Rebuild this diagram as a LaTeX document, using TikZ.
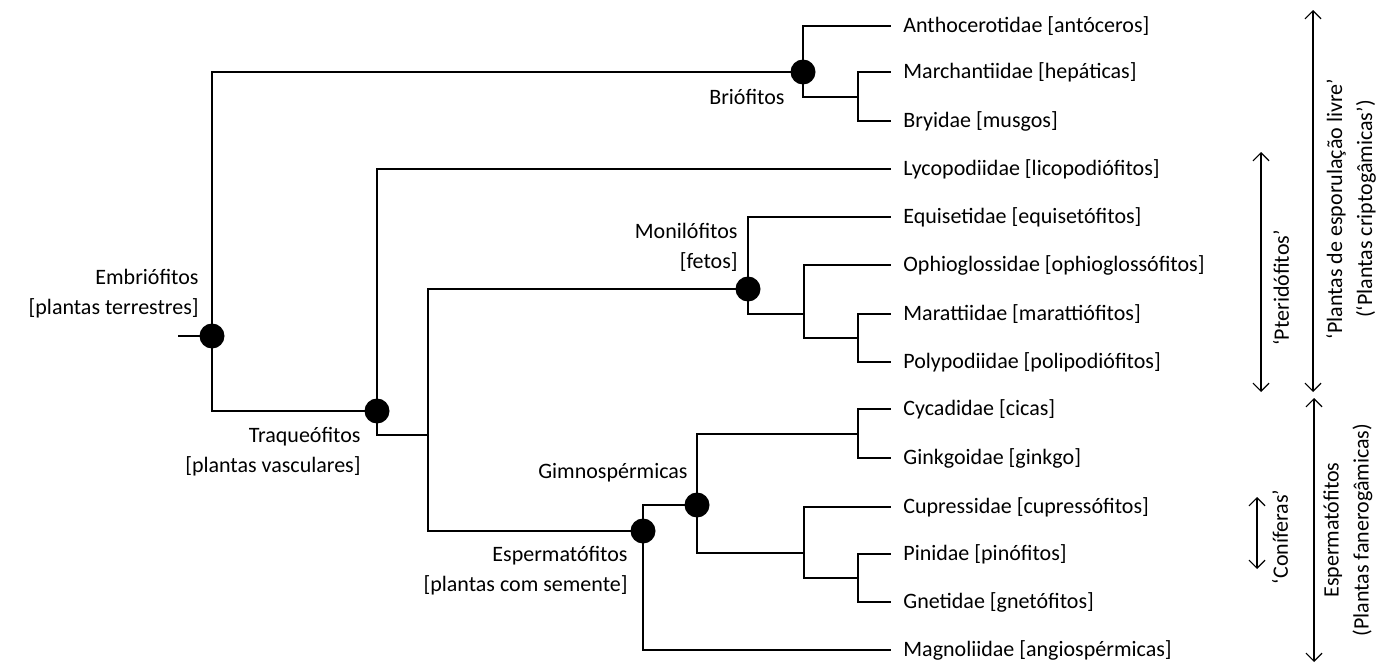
\documentclass[tikz,border=0pt]{standalone}
\usepackage{fontspec}
\setmainfont{Carlito}
\usetikzlibrary{arrows.meta}

\begin{document}
\begin{tikzpicture}[x=0.5pt,y=-0.5pt,
    font=\fontsize{11}{15}\selectfont,
    branch/.style={line width=0.8pt},
    clade/.style={circle,fill=black,inner sep=0pt,minimum size=12.5pt},
    leaf/.style={anchor=west,inner xsep=6pt,inner ysep=0pt},
    tag/.style={anchor=east,align=right,inner sep=0pt},
    side/.style={rotate=90,align=center,inner sep=0pt},
    span/.style={line width=0.6pt,{Straight Barb[length=4pt,width=8pt]}-{Straight Barb[length=4pt,width=8pt]}}]
  \useasboundingbox (0,0) rectangle (1389,664);

  % folhas
  \node[leaf] (antho)  at (891,26)  {Anthocerotidae [antóceros]};
  \node[leaf] (march)  at (891,72)  {Marchantiidae [hepáticas]};
  \node[leaf] (bryi)   at (891,121) {Bryidae [musgos]};
  \node[leaf] (lyco)   at (891,169) {Lycopodiidae [licopodiófitos]};
  \node[leaf] (equi)   at (891,217) {Equisetidae [equisetófitos]};
  \node[leaf] (ophio)  at (891,265) {Ophioglossidae [ophioglossófitos]};
  \node[leaf] (maratt) at (891,314) {Marattiidae [marattiófitos]};
  \node[leaf] (polyp)  at (891,362) {Polypodiidae [polipodiófitos]};
  \node[leaf] (cyca)   at (891,409) {Cycadidae [cicas]};
  \node[leaf] (ginkgo) at (891,458) {Ginkgoidae [ginkgo]};
  \node[leaf] (cupr)   at (891,507) {Cupressidae [cupressófitos]};
  \node[leaf] (pini)   at (891,554) {Pinidae [pinófitos]};
  \node[leaf] (gneti)  at (891,602) {Gnetidae [gnetófitos]};
  \node[leaf] (magno)  at (891,650) {Magnoliidae [angiospérmicas]};

  % nos com ponto
  \coordinate (base) at (178,336);
  \node[clade] (embr)  at (212,336) {};
  \node[clade] (brio)  at (803,72)  {};
  \node[clade] (traq)  at (377,411) {};
  \node[clade] (moni)  at (748,289) {};
  \node[clade] (sperm) at (643,531) {};
  \node[clade] (gimno) at (697,505) {};

  % juncoes sem ponto
  \coordinate (eufi) at (428,435);
  \coordinate (bryj) at (858,97);
  \coordinate (ophj) at (804,314);
  \coordinate (marj) at (858,338);
  \coordinate (cycj) at (858,434);
  \coordinate (cupj) at (804,553);
  \coordinate (pinj) at (858,578);

  \draw[branch] (base) -- (embr.center);
  \draw[branch] (embr.center) |- (brio.center);
  \draw[branch] (embr.center) |- (traq.center);
  \draw[branch] (brio.center) |- (antho.west);
  \draw[branch] (brio.center) |- (bryj);
  \draw[branch] (bryj) |- (march.west);
  \draw[branch] (bryj) |- (bryi.west);
  \draw[branch] (traq.center) |- (lyco.west);
  \draw[branch] (traq.center) |- (eufi);
  \draw[branch] (eufi) |- (moni.center);
  \draw[branch] (eufi) |- (sperm.center);
  \draw[branch] (moni.center) |- (equi.west);
  \draw[branch] (moni.center) |- (ophj);
  \draw[branch] (ophj) |- (ophio.west);
  \draw[branch] (ophj) |- (marj);
  \draw[branch] (marj) |- (maratt.west);
  \draw[branch] (marj) |- (polyp.west);
  \draw[branch] (sperm.center) |- (gimno.center);
  \draw[branch] (sperm.center) |- (magno.west);
  \draw[branch] (gimno.center) |- (cycj);
  \draw[branch] (gimno.center) |- (cupj);
  \draw[branch] (cycj) |- (cyca.west);
  \draw[branch] (cycj) |- (ginkgo.west);
  \draw[branch] (cupj) |- (cupr.west);
  \draw[branch] (cupj) |- (pinj);
  \draw[branch] (pinj) |- (pini.west);
  \draw[branch] (pinj) |- (gneti.west);

  % nomes dos clados
  \node[tag] (embrlab)  at (199,294) {Embriófitos\\{[plantas terrestres]}};
  \node[tag] (briolab)  at (785,97)  {Briófitos};
  \node[tag] (traqlab)  at (361,452) {Traqueófitos\\{[plantas vasculares]}};
  \node[tag] (monilab)  at (738,247) {Monilófitos\\{[fetos]}};
  \node[tag] (gimnolab) at (688,473) {Gimnospérmicas};
  \node[tag] (spermlab) at (628,571) {Espermatófitos\\{[plantas com semente]}};

  % grupos a direita
  \coordinate (ptertop) at (1261,152);
  \coordinate (pterbot) at (1261,392);
  \coordinate (criptop) at (1313,10);
  \coordinate (cripbot) at (1313,392);
  \coordinate (fantop)  at (1314,398);
  \coordinate (fanbot)  at (1314,662);
  \coordinate (contop)  at (1257,497);
  \coordinate (conbot)  at (1257,569);
  \draw[span] (ptertop) -- (pterbot);
  \draw[span] (criptop) -- (cripbot);
  \draw[span] (fantop) -- (fanbot);
  \draw[span] (contop) -- (conbot);
  \node[side] (pterlab) at (1281,288) {‘Pteridófitos’};
  \node[side] (criplab) at (1351,209) {‘Plantas de esporulação livre’\\(‘Plantas criptogâmicas’)};
  \node[side] (conlab)  at (1280,537) {‘Coníferas’};
  \node[side] (fanlab)  at (1348,530) {Espermatófitos\\(Plantas fanerogâmicas)};
\end{tikzpicture}
\end{document}
